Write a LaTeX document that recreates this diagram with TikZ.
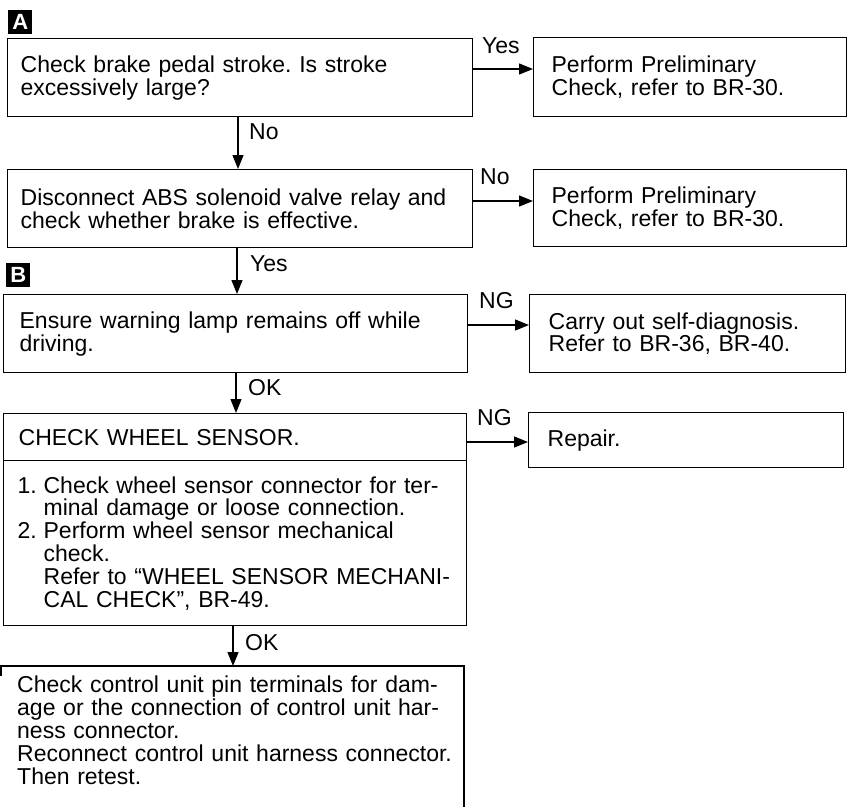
\documentclass[tikz,border=0pt]{standalone}
\usepackage{fontspec}
\setmainfont{Liberation Sans}
\usetikzlibrary{arrows.meta}
\newcommand{\fsz}{\fontsize{23pt}{22.8pt}\selectfont\frenchspacing\hyphenpenalty=10000 }
\begin{document}
\begin{tikzpicture}[x=1pt,y=-1pt,
  every node/.style={font=\fsz},
  box/.style={draw, line width=1.3pt, anchor=north west, inner ysep=0pt, align=left, font=\fsz},
  lbl/.style={anchor=base west, inner sep=0pt, font=\fsz},
  arr/.style={line width=1.3pt, -{Triangle[length=14pt,width=11pt]}},
  marker/.style={fill=black, text=white, anchor=north west, minimum size=24pt, inner sep=0pt, font=\fontsize{22pt}{22pt}\selectfont\bfseries}
]
\useasboundingbox (0,0) rectangle (847,807);

% markers
\node[marker] (mA) at (8,10) {A};
\node[marker] (mB) at (6,263) {B};

% left column
\node[box, minimum width=465pt, minimum height=78pt, inner xsep=13pt, text width=439pt] (b1) at (7,38)
  {Check brake pedal stroke. Is stroke\\excessively large?};
\node[box, minimum width=465pt, minimum height=78pt, inner xsep=13pt, text width=439pt] (b2) at (7,169)
  {Disconnect ABS solenoid valve relay and\\check whether brake is effective.};
\node[box, minimum width=464pt, minimum height=78pt, inner xsep=16pt, text width=432pt] (b3) at (3,294)
  {Ensure warning lamp remains off while\\driving.};
\node[box, minimum width=463pt, minimum height=47pt, inner xsep=15pt, text width=433pt] (h4) at (3,413)
  {CHECK WHEEL SENSOR.};
\node[box, minimum width=463pt, minimum height=165pt, inner xsep=14pt, text width=435pt] (b4) at (3,460)
  {\makebox[26pt][l]{1.}Check wheel sensor connector for ter-\\
   \hspace*{26pt}minal damage or loose connection.\\
   \makebox[26pt][l]{2.}Perform wheel sensor mechanical\\
   \hspace*{26pt}check.\\
   \hspace*{26pt}Refer to “WHEEL SENSOR MECHANI-\\
   \hspace*{26pt}CAL CHECK”, BR-49.};
\node[anchor=north west, inner xsep=16pt, inner ysep=10pt, text width=460pt, align=left] (b5) at (1,666)
  {Check control unit pin terminals for dam-\\
   age or the connection of control unit har-\\
   ness connector.\\
   Reconnect control unit harness connector.\\
   Then retest.};
\draw[line width=1.3pt] ([yshift=-10pt]b5.north west) -- (b5.north west) -- ([xshift=463pt]b5.north west) -- ([xshift=463pt]b5.north west |- 0,807);

% right column
\node[box, minimum width=313pt, minimum height=79pt, inner xsep=18pt, text width=277pt] (r1) at (533,37)
  {Perform Preliminary\\Check, refer to BR-30.};
\node[box, minimum width=313pt, minimum height=77pt, inner xsep=18pt, text width=277pt] (r2) at (533,169)
  {Perform Preliminary\\Check, refer to BR-30.};
\node[box, minimum width=316pt, minimum height=78pt, inner xsep=19pt, text width=278pt] (r3) at (529,294)
  {Carry out self-diagnosis.\\Refer to BR-36, BR-40.};
\node[box, minimum width=315pt, minimum height=55pt, inner xsep=19pt, text width=277pt] (r4) at (528,412)
  {Repair.};

% vertical connectors
\draw[arr] (b1.south -| 238,0) -- (b2.north -| 238,0);
\draw[arr] (b2.south -| 237,0) -- (b3.north -| 237,0);
\draw[arr] (b3.south -| 236,0) -- (h4.north -| 236,0);
\draw[arr] (b4.south -| 233,0) -- (b5.north -| 233,0);

% horizontal connectors
\draw[arr] (b1.east |- 0,69) -- (r1.west |- 0,69);
\draw[arr] (b2.east |- 0,201) -- (r2.west |- 0,201);
\draw[arr] (b3.east |- 0,325) -- (r3.west |- 0,325);
\draw[arr] (h4.east |- 0,442) -- (r4.west |- 0,442);

% labels
\node[lbl] (l1) at (482,53) {Yes};
\node[lbl] (l2) at (249,139) {No};
\node[lbl] (l3) at (480,184) {No};
\node[lbl] (l4) at (250,271) {Yes};
\node[lbl] (l5) at (479,308) {NG};
\node[lbl] (l6) at (248,395) {OK};
\node[lbl] (l7) at (477,425) {NG};
\node[lbl] (l8) at (245,650) {OK};
\end{tikzpicture}
\end{document}
